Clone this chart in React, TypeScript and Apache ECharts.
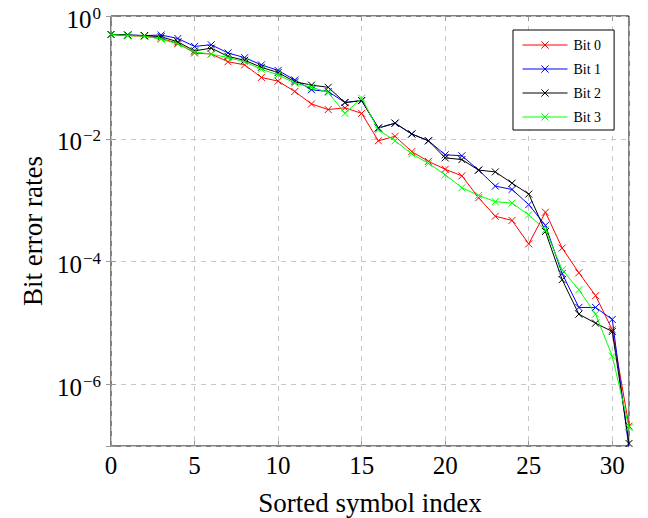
import React, { useEffect, useRef } from "react";
import * as echarts from "echarts";

const symbolIndex = [0, 1, 2, 3, 4, 5, 6, 7, 8, 9, 10, 11, 12, 13, 14, 15, 16, 17, 18, 19, 20, 21, 22, 23, 24, 25, 26, 27, 28, 29, 30, 31];

const bit0 = [0.5, 0.48, 0.47, 0.43, 0.36, 0.25, 0.24, 0.18, 0.16, 0.1, 0.087, 0.059, 0.037, 0.03, 0.032, 0.026, 0.0093, 0.011, 0.0062, 0.0043, 0.0032, 0.0025, 0.0011, 0.00055, 0.00047, 0.000195, 0.00064, 0.000167, 6.6e-5, 2.8e-5, 7.8e-6, 2.1e-7];
const bit1 = [0.5, 0.49, 0.48, 0.49, 0.43, 0.32, 0.34, 0.25, 0.21, 0.16, 0.13, 0.091, 0.063, 0.059, 0.039, 0.042, 0.015, 0.018, 0.012, 0.0093, 0.0055, 0.0053, 0.0031, 0.0017, 0.0015, 0.00085, 0.00039, 6.4e-5, 1.8e-5, 1.8e-5, 1.15e-5, 9e-8];
const bit2 = [0.5, 0.49, 0.48, 0.46, 0.38, 0.27, 0.3, 0.22, 0.19, 0.146, 0.12, 0.085, 0.075, 0.069, 0.039, 0.042, 0.015, 0.018, 0.012, 0.0093, 0.0049, 0.0046, 0.0031, 0.0029, 0.0019, 0.00126, 0.00031, 5.1e-5, 1.4e-5, 1.0e-5, 7.3e-6, 1.1e-7];
const bit3 = [0.5, 0.48, 0.47, 0.42, 0.35, 0.26, 0.24, 0.21, 0.18, 0.136, 0.11, 0.081, 0.069, 0.057, 0.026, 0.046, 0.014, 0.0093, 0.0057, 0.004, 0.0026, 0.0016, 0.0012, 0.00095, 0.0009, 0.00058, 0.00033, 7.4e-5, 3.5e-5, 1.4e-5, 2.9e-6, 2.0e-7];

const seriesNames = ["Bit 0", "Bit 1", "Bit 2", "Bit 3"];
const seriesColors = ["#ff0000", "#0000ff", "#000000", "#00ff00"];
const seriesValues = [bit0, bit1, bit2, bit3];

const X_SYMBOL = "path://M0,0L10,10M10,0L0,10";
const FONT = "Liberation Serif";

export default function App() {
  const ref = useRef<HTMLDivElement>(null);
  useEffect(() => {
    if (!ref.current) return;
    const chart = echarts.init(ref.current, undefined, { renderer: "svg" });
    const tickStyle = { show: true, inside: true, length: 5, lineStyle: { color: "#999", width: 1 } };
    const yFormatter = (v: number) => {
      const e = Math.round(Math.log10(v));
      if (e % 2 !== 0) return "";
      return `{b|10}{s|${e === 0 ? "0" : "\u2212" + -e}}`;
    };
    chart.setOption({
      animation: false,
      textStyle: { fontFamily: FONT },
      grid: {
        left: 111,
        right: 19,
        top: 16,
        bottom: 72,
        containLabel: false,
        outerBoundsMode: "none",
        show: true,
        borderColor: "#000",
        borderWidth: 1,
        backgroundColor: "transparent",
      },
      legend: {
        orient: "vertical",
        left: 513,
        top: 30,
        padding: [8, 13, 6, 9],
        itemWidth: 45,
        itemHeight: 9,
        itemGap: 10,
        backgroundColor: "#fff",
        borderColor: "#000",
        borderWidth: 1,
        borderRadius: 0,
        itemStyle: { borderWidth: 1 },
        lineStyle: { width: 1 },
        textStyle: { fontFamily: FONT, fontSize: 14, lineHeight: 14, color: "#000", padding: [0, 0, 0, 1] },
        data: seriesNames,
      },
      xAxis: [
        {
          type: "value",
          min: 0,
          max: 31,
          interval: 5,
          name: "Sorted symbol index",
          nameLocation: "middle",
          nameGap: 43,
          nameTextStyle: { fontFamily: FONT, fontSize: 27, color: "#000" },
          axisLine: { show: false },
          axisTick: tickStyle,
          axisLabel: {
            fontFamily: FONT,
            fontSize: 25,
            color: "#000",
            margin: 7,
            formatter: (v: number) => (v % 5 === 0 ? String(v) : ""),
          },
          splitLine: { show: true, lineStyle: { color: "#c8c8c8", type: [5, 5], width: 1 } },
        },
        {
          type: "value",
          position: "top",
          min: 0,
          max: 31,
          interval: 5,
          axisLine: { show: false },
          axisTick: tickStyle,
          axisLabel: { show: false },
          splitLine: { show: false },
        },
      ],
      yAxis: [
        {
          type: "log",
          logBase: 100,
          min: 1e-7,
          max: 1,
          name: "Bit error rates",
          nameLocation: "middle",
          nameGap: 62,
          nameTextStyle: { fontFamily: FONT, fontSize: 27, color: "#000" },
          axisLine: { show: false },
          axisTick: tickStyle,
          minorTick: { show: false },
          axisLabel: {
            fontFamily: FONT,
            color: "#000",
            margin: 10,
            formatter: yFormatter,
            rich: {
              b: { fontFamily: FONT, fontSize: 25, color: "#000", lineHeight: 25, padding: [6, 0, 0, 0] },
              s: { fontFamily: FONT, fontSize: 17, color: "#000", lineHeight: 17, padding: [4, 0, 10, 1] },
            },
          },
          splitLine: { show: true, lineStyle: { color: "#c8c8c8", type: [5, 5], width: 1 } },
        },
        {
          type: "log",
          logBase: 100,
          min: 1e-7,
          max: 1,
          position: "right",
          axisLine: { show: false },
          axisTick: tickStyle,
          axisLabel: { show: false },
          splitLine: { show: false },
        },
      ],
      series: seriesNames.map((name, k) => ({
        name,
        type: "line",
        xAxisIndex: 0,
        yAxisIndex: 0,
        data: symbolIndex.map((x, i) => [x, seriesValues[k][i]]),
        symbol: X_SYMBOL,
        symbolSize: 7,
        showSymbol: true,
        color: seriesColors[k],
        lineStyle: { color: seriesColors[k], width: 1 },
        itemStyle: { color: seriesColors[k], borderColor: seriesColors[k], borderWidth: 1 },
        clip: true,
        z: 2 + k,
      })),
    });
    return () => chart.dispose();
  }, []);
  return <div ref={ref} style={{ position: "absolute", left: 0, top: 0, width: 648, height: 518 }} />;
}
